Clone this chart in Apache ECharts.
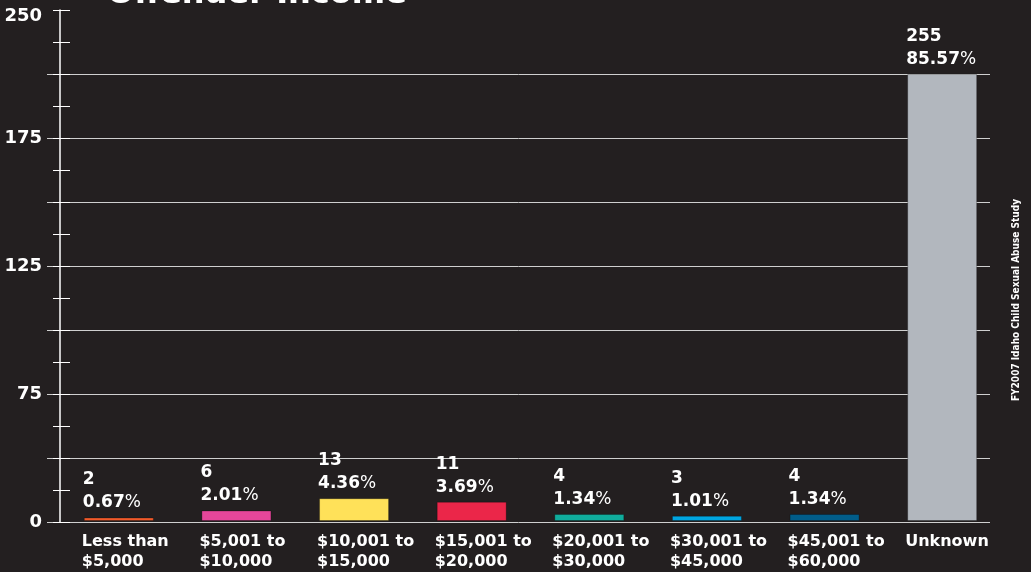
<!DOCTYPE html>
<html>
<head>
<meta charset="utf-8">
<script src="https://cdn.jsdelivr.net/npm/echarts@6/dist/echarts.min.js"></script>
<style>
  html, body { margin: 0; padding: 0; background: #231f20; }
  #chart { width: 1031px; height: 572px; }
</style>
</head>
<body>
<div id="chart"></div>
<script>
// data
var categories = ['Less than\n$5,000', '$5,001 to\n$10,000', '$10,001 to\n$15,000', '$15,001 to\n$20,000',
                  '$20,001 to\n$30,000', '$30,001 to\n$45,000', '$45,001 to\n$60,000', 'Unknown'];
var counts = [2, 6, 13, 11, 4, 3, 4, 255];
var percents = ['0.67', '2.01', '4.36', '3.69', '1.34', '1.01', '1.34', '85.57'];
var barColors = ['#f15a2b', '#e5469a', '#ffe159', '#eb2649', '#10ac9c', '#00a5e0', '#015d8a', '#b2b7be'];
var yTickLabels = ['0', '75', '125', '175', '250'];

var font = 'DejaVu Sans';
var gridStep = 255 / 7;          // gridline spacing (the Unknown bar tops out on the 7th line)
var yMax = gridStep * 8;

var chart = echarts.init(document.getElementById('chart'));

var option = {
    backgroundColor: '#231f20',
    animation: false,
    graphic: [{
        // title, cut off by the top edge as in the source
        type: 'text',
        x: 107,
        y: -21,
        style: {
            text: 'Offender Income',
            fill: '#fff',
            font: 'bold 32px "DejaVu Sans", sans-serif',
            align: 'left',
            verticalAlign: 'top'
        }
    }, {
        type: 'text',
        x: 1016,
        y: 300,
        rotation: Math.PI / 2,
        style: {
            text: 'FY2007 Idaho Child Sexual Abuse Study',
            fill: '#fff',
            font: 'bold 10px "Liberation Sans Narrow", "DejaVu Sans Condensed", sans-serif',
            align: 'center',
            verticalAlign: 'middle'
        }
    }],
    grid: [
        { left: 47, right: 41, top: 10, bottom: 50 },      // gridlines + y axis
        { left: 60, right: 30, top: 10, bottom: 50 }       // bars
    ],
    xAxis: [
        { type: 'value', gridIndex: 0, show: false, min: 0, max: 1 },
        {
            type: 'category',
            gridIndex: 1,
            data: categories,
            axisLine: { show: false },
            axisTick: { show: false },
            axisLabel: {
                color: '#fff',
                fontFamily: font,
                fontWeight: 'bold',
                fontSize: 16,
                lineHeight: 20,
                align: 'left',
                margin: 11,
                padding: [0, 0, 0, -37],
                interval: 0
            }
        }
    ],
    yAxis: [
        {
            // gridlines and labels
            type: 'value', gridIndex: 0, position: 'left', min: 0, max: yMax, interval: gridStep,
            axisLine: { show: false },
            axisTick: { show: false },
            splitLine: { show: true, showMaxLine: false, lineStyle: { color: '#cfcfcf', width: 1 } },
            axisLabel: {
                color: '#fff', fontFamily: font, fontWeight: 'bold', fontSize: 18, margin: 5,
                formatter: function (v) {
                    var i = Math.round(v / gridStep);
                    if (i % 2) return '';
                    return i === 8 ? '{t|' + yTickLabels[4] + '}' : yTickLabels[i / 2];
                },
                rich: {
                    t: { color: '#fff', fontFamily: font, fontWeight: 'bold', fontSize: 18, padding: [13, 0, 0, 0] }
                }
            }
        },
        {
            // small ticks across the axis line
            type: 'value', gridIndex: 0, position: 'left', min: 0, max: yMax, interval: gridStep / 2, offset: -6,
            axisLine: { show: false },
            axisTick: { show: true, inside: true, length: 17, lineStyle: { color: '#fff', width: 1 } },
            axisLabel: { show: false },
            splitLine: { show: false }
        },
        {
            // the axis line itself
            type: 'value', gridIndex: 0, position: 'left', min: 0, max: yMax, offset: -13,
            axisLine: { show: true, lineStyle: { color: '#fff', width: 1.5 } },
            axisTick: { show: false },
            axisLabel: { show: false },
            splitLine: { show: false }
        },
        { type: 'value', gridIndex: 1, min: 0, max: yMax, show: false }
    ],
    series: [{
        type: 'bar',
        xAxisIndex: 1,
        yAxisIndex: 3,
        barWidth: 70,
        data: counts.map(function (c, i) {
            return {
                value: c,
                itemStyle: { color: barColors[i], borderColor: 'rgba(0,0,0,0.25)', borderWidth: 1 }
            };
        }),
        label: {
            show: true,
            position: [-1, -3],
            align: 'left',
            verticalAlign: 'bottom',
            formatter: function (p) {
                return '{n|' + counts[p.dataIndex] + '}\n{n|' + percents[p.dataIndex] + '}{p|%}';
            },
            rich: {
                n: { color: '#fff', fontFamily: font, fontWeight: 'bold', fontSize: 17, lineHeight: 23 },
                p: { color: '#fff', fontFamily: font, fontWeight: 'normal', fontSize: 17, lineHeight: 23 }
            }
        }
    }]
};

chart.setOption(option);
</script>
</body>
</html>
